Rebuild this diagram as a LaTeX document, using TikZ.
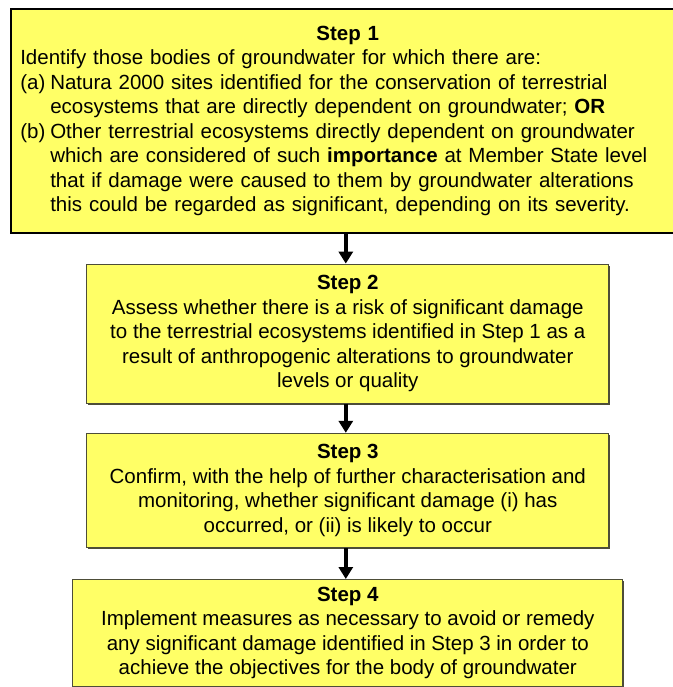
\documentclass[tikz,border=0pt]{standalone}
\usepackage{fontspec}
\setmainfont{Liberation Sans}
\usetikzlibrary{arrows.meta, positioning, shadows}
\definecolor{stepyellow}{RGB}{255,255,102}
\definecolor{stepframe}{RGB}{77,77,56}

\begin{document}
\begin{tikzpicture}[x=1pt, y=1pt,
    stepbox/.style={draw=stepframe, line width=1.2pt, fill=stepyellow, inner sep=0pt,
        align=center, font=\fontsize{20.5}{24.5}\selectfont,
        drop shadow={shadow xshift=1.5pt, shadow yshift=-1.5pt, fill=stepframe, opacity=1}},
    flowarrow/.style={-{Triangle[width=14pt,length=12pt]}, line width=4pt}]
    \useasboundingbox (0,0) rectangle (672,-687);

    % Step 1 (wide box, runs past the right edge)
    \node[stepbox, draw=black, line width=1.6pt, anchor=north west, align=left,
        minimum width=674pt, minimum height=224pt, text width=655pt] (s1) at (10,-8) {%
        \makebox[655pt]{\textbf{Step 1}}\\
        Identify those bodies of groundwater for which there are:\\
        \makebox[30pt][l]{(a)}Natura 2000 sites identified for the conservation of terrestrial\\
        \hspace*{30pt}ecosystems that are directly dependent on groundwater; \textbf{OR}\\
        \makebox[30pt][l]{(b)}Other terrestrial ecosystems directly dependent on groundwater\\
        \hspace*{30pt}which are considered of such \textbf{importance} at Member State level\\
        \hspace*{30pt}that if damage were caused to them by groundwater alterations\\
        \hspace*{30pt}this could be regarded as significant, depending on its severity.};

    % Steps 2 to 4
    \node[stepbox, below=30pt of s1, minimum width=522pt, minimum height=139pt] (s2) {%
        \textbf{Step 2}\\
        Assess whether there is a risk of significant damage\\
        to the terrestrial ecosystems identified in Step 1 as a\\
        result of anthropogenic alterations to groundwater\\
        levels or quality};
    \node[stepbox, below=29pt of s2, minimum width=522pt, minimum height=114pt] (s3) {%
        \textbf{Step 3}\\
        Confirm, with the help of further characterisation and\\
        monitoring, whether significant damage (i) has\\
        occurred, or (ii) is likely to occur};
    \node[stepbox, below=31pt of s3, minimum width=550pt, minimum height=107pt] (s4) {%
        \textbf{Step 4}\\
        Implement measures as necessary to avoid or remedy\\
        any significant damage identified in Step 3 in order to\\
        achieve the objectives for the body of groundwater};

    % Arrows
    \draw[flowarrow] ([xshift=-2pt]s1.south) -- ([xshift=-2pt]s2.north);
    \draw[flowarrow] ([xshift=-2pt]s2.south) -- ([xshift=-2pt]s3.north);
    \draw[flowarrow] ([xshift=-2pt]s3.south) -- ([xshift=-2pt]s4.north);
\end{tikzpicture}
\end{document}
